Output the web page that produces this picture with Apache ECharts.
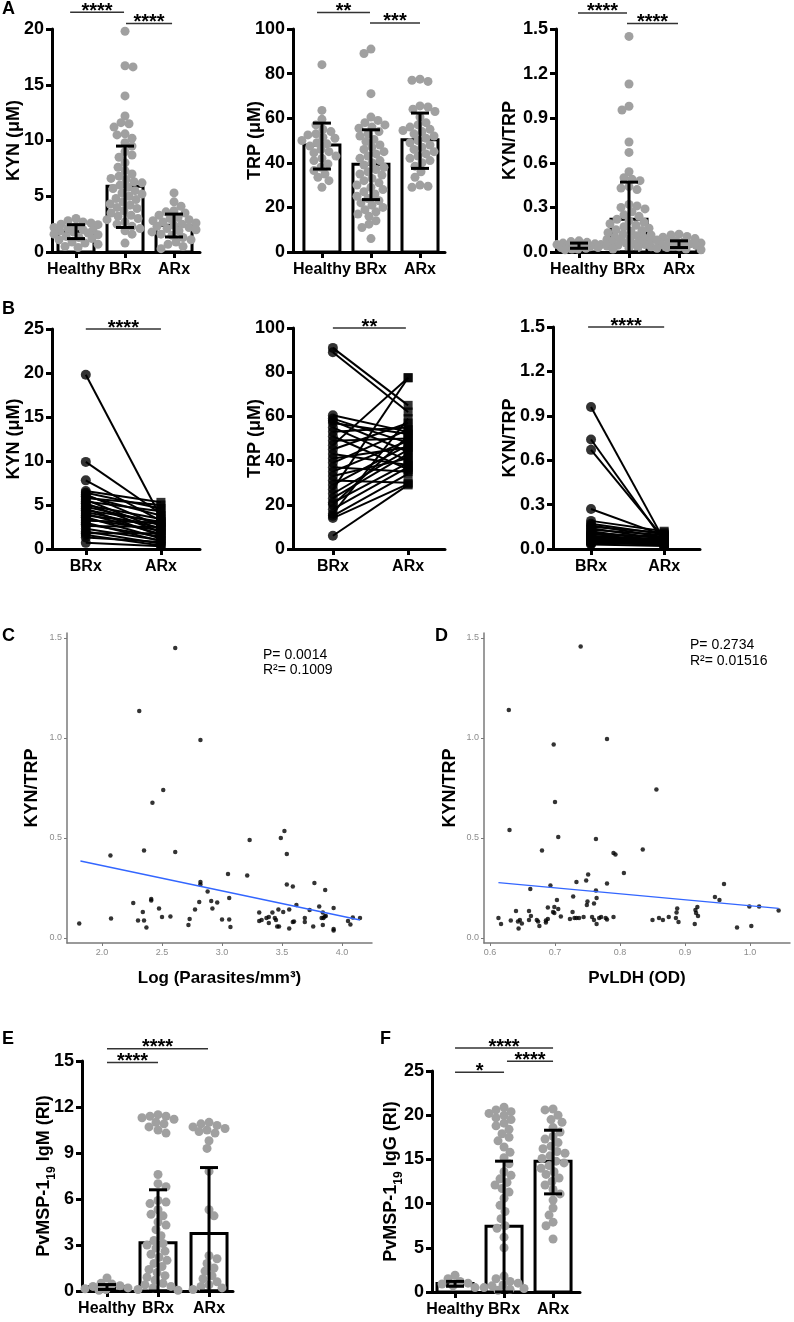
<!DOCTYPE html>
<html><head><meta charset="utf-8">
<script src="https://cdn.jsdelivr.net/npm/echarts@6/dist/echarts.min.js"></script>
<style>html,body{margin:0;padding:0;background:#fff}#c{width:794px;height:1322px}</style>
</head><body><div id="c"></div>
<script>
// ---------------- DATA ----------------
const groupNames = ['Healthy', 'BRx', 'ARx'];
const pairNames = ['BRx', 'ARx'];

// Panel A – KYN (µM)
const kynHealthy = [3.0, 2.8, 2.7, 2.6, 2.5, 2.45, 2.3, 2.2, 2.1, 2.0, 1.95, 1.9, 1.8, 1.7, 1.6, 1.55, 1.4, 1.3, 1.2, 1.1, 0.9, 0.8, 0.7, 0.5, 0.4];
const kynBRx = [19.8, 16.7, 16.6, 14.0, 12.2, 11.6, 11.5, 11.2, 10.6, 10.5, 10.2, 9.8, 9.5, 9.0, 8.7, 8.5, 8.0, 7.6, 7.3, 7.0, 6.8, 6.6, 6.5, 6.3, 6.2, 6.0, 5.8, 5.7, 5.5, 5.3, 5.2, 5.0, 4.8, 4.7, 4.5, 4.3, 4.2, 4.0, 3.9, 3.7, 3.5, 3.3, 3.2, 3.0, 2.9, 2.7, 2.5, 2.3, 2.1, 1.9, 1.6, 0.8];
const kynARx = [5.3, 4.5, 4.1, 3.7, 3.6, 3.5, 3.3, 3.1, 3.0, 2.9, 2.8, 2.7, 2.6, 2.5, 2.4, 2.3, 2.2, 2.1, 2.0, 1.9, 1.8, 1.6, 1.5, 1.3, 1.1, 0.9, 0.7, 0.5, 0.3];
const kynMean = [1.85, 5.9, 2.4];
const kynLow = [1.2, 2.2, 1.35];
const kynHigh = [2.45, 9.5, 3.4];
const kynSig = [[-0.12, 0.98, 21.5], [1.02, 1.96, 20.5]];
const kynSigText = ['****', '****'];

// Panel A – TRP (µM)
const trpHealthy = [84, 63.5, 59.5, 57, 55, 54, 53, 52.5, 51.5, 51, 50, 49, 48.5, 47.5, 46, 45, 44.5, 43, 42, 41, 39.5, 38, 36.5, 35, 33.5, 32, 29];
const trpBRx = [91, 89, 71, 60.5, 59, 58, 57, 56, 55.5, 54, 53, 52, 50.5, 49.5, 48, 47, 46, 45, 44, 43, 42, 41, 40, 39, 38, 37, 36, 35, 34.5, 33, 32, 31, 30, 29, 28, 27, 26, 25, 24, 23, 22, 21, 20, 19, 18, 17, 16, 14, 12.5, 11, 6];
const trpARx = [77.5, 77, 76.5, 65.5, 65, 64, 63, 60.5, 58, 57, 56, 55, 54.5, 54, 53, 52, 51, 50, 49, 48, 47, 46, 45, 44, 43, 42, 41, 40, 38.5, 36, 33.5, 30, 29.5, 29];
const trpMean = [48, 39.3, 50.3];
const trpLow = [37.2, 23.5, 37.5];
const trpHigh = [57.8, 54.8, 62.3];
const trpSig = [[-0.1, 0.98, 107.4], [0.98, 2.0, 102.7]];
const trpSigText = ['**', '***'];

// Panel A – KYN/TRP
const ktHealthy = [0.075, 0.07, 0.065, 0.06, 0.055, 0.05, 0.05, 0.045, 0.04, 0.04, 0.035, 0.03, 0.03, 0.025, 0.02, 0.02, 0.015];
const ktBRx = [1.45, 1.13, 0.98, 0.955, 0.74, 0.67, 0.54, 0.50, 0.49, 0.48, 0.44, 0.43, 0.42, 0.32, 0.31, 0.30, 0.29, 0.27, 0.25, 0.24, 0.22, 0.21, 0.20, 0.19, 0.18, 0.17, 0.16, 0.15, 0.145, 0.14, 0.13, 0.12, 0.115, 0.11, 0.10, 0.095, 0.09, 0.085, 0.08, 0.075, 0.07, 0.065, 0.06, 0.055, 0.05, 0.045, 0.04, 0.035, 0.03, 0.025, 0.02];
const ktARx = [0.12, 0.115, 0.105, 0.1, 0.09, 0.08, 0.075, 0.07, 0.065, 0.06, 0.055, 0.05, 0.045, 0.04, 0.035, 0.03, 0.025, 0.02, 0.015];
const ktMean = [0.04, 0.22, 0.053];
const ktLow = [0.025, 0.0, 0.03];
const ktHigh = [0.06, 0.47, 0.075];
const ktSig = [[-0.02, 0.96, 1.608], [0.96, 1.98, 1.537]];
const ktSigText = ['****', '****'];

// Panel B – paired BRx -> ARx
const kynPairB = [19.8, 9.9, 7.8, 6.6, 6.4, 6.2, 6.0, 5.8, 5.6, 5.4, 5.2, 5.0, 4.8, 4.6, 4.4, 4.2, 4.0, 3.8, 3.6, 3.4, 3.2, 3.0, 2.8, 2.6, 2.3, 2.0, 1.8, 1.6, 1.3, 0.7];
const kynPairA = [3.6, 4.0, 3.2, 5.3, 4.6, 2.6, 3.8, 5.0, 2.2, 4.3, 1.9, 3.4, 2.9, 1.5, 3.1, 2.4, 1.7, 2.8, 1.2, 2.1, 3.0, 0.9, 1.4, 2.5, 1.0, 0.6, 1.8, 0.4, 0.8, 0.3];
const kynPairSig = [[0, 1, 25]];
const trpPairB = [91, 89, 60.5, 59, 58, 57, 55, 53, 51, 49, 47, 45, 43, 41, 39, 37, 35, 33, 31, 29, 27, 25, 23, 21, 20, 18, 16, 15, 14, 6];
const trpPairA = [65, 62, 53, 48, 44, 52, 40, 55, 36, 50, 77.5, 57, 38, 46, 54, 35, 49, 41, 30, 47, 77.5, 45, 43, 39, 51, 37, 59, 34, 29.5, 29];
const trpPairSig = [[0, 0.97, 100]];
const ktPairB = [0.96, 0.74, 0.67, 0.27, 0.19, 0.17, 0.16, 0.15, 0.14, 0.13, 0.12, 0.11, 0.105, 0.1, 0.09, 0.085, 0.08, 0.075, 0.07, 0.065, 0.06, 0.055, 0.05, 0.045, 0.04, 0.035, 0.03];
const ktPairA = [0.06, 0.05, 0.07, 0.09, 0.12, 0.1, 0.08, 0.11, 0.065, 0.095, 0.05, 0.075, 0.04, 0.085, 0.06, 0.045, 0.07, 0.035, 0.055, 0.03, 0.05, 0.04, 0.025, 0.06, 0.03, 0.045, 0.02];
const ktPairSig = [[-0.04, 1.0, 1.5]];

// Panel C – KYN/TRP vs Log(parasites/mm3)
const cPoints = [[2.61,1.45],[2.31,1.135],[2.82,0.99],[2.51,0.74],[2.42,0.676],[2.07,0.413],[2.35,0.438],[2.61,0.43],[3.23,0.49],[3.49,0.50],[3.52,0.535],[3.54,0.42],[3.05,0.32],[3.21,0.313],[2.82,0.28],[2.82,0.268],[2.88,0.233],[3.54,0.268],[3.59,0.257],[3.77,0.275],[3.86,0.24],[2.26,0.175],[2.41,0.195],[2.41,0.188],[2.81,0.18],[2.91,0.185],[2.96,0.177],[3.06,0.20],[2.92,0.147],[2.775,0.142],[2.475,0.148],[2.34,0.13],[2.075,0.098],[2.30,0.088],[2.35,0.088],[2.50,0.105],[2.57,0.108],[2.37,0.053],[1.81,0.073],[2.73,0.095],[2.72,0.065],[3.00,0.092],[3.06,0.093],[3.07,0.055],[3.31,0.128],[3.42,0.127],[3.47,0.143],[3.51,0.13],[3.56,0.143],[3.62,0.165],[3.73,0.14],[3.81,0.158],[3.84,0.128],[3.93,0.15],[3.31,0.085],[3.33,0.09],[3.37,0.1],[3.39,0.105],[3.44,0.1],[3.45,0.09],[3.39,0.075],[3.475,0.058],[3.56,0.048],[3.59,0.08],[3.60,0.082],[3.69,0.1],[3.69,0.08],[3.76,0.057],[3.83,0.1],[3.845,0.1],[3.855,0.108],[3.865,0.11],[3.84,0.065],[3.93,0.045],[4.05,0.085],[4.07,0.067],[4.09,0.103],[4.15,0.1],[3.93,0.037],[3.46,0.057]];
const cFit = [[1.82, 0.385], [4.15, 0.09]];
const cStats = ['P= 0.0014', 'R\u00b2= 0.1009'];

// Panel D – KYN/TRP vs PvLDH (OD)
const dPoints = [[0.7395,1.457],[0.629,1.14],[0.78,0.995],[0.698,0.967],[0.856,0.743],[0.70,0.68],[0.63,0.54],[0.705,0.505],[0.763,0.495],[0.68,0.437],[0.79,0.425],[0.793,0.418],[0.835,0.443],[0.806,0.325],[0.751,0.318],[0.733,0.28],[0.748,0.287],[0.78,0.273],[0.693,0.263],[0.662,0.245],[0.763,0.238],[0.96,0.27],[0.728,0.207],[0.703,0.19],[0.75,0.183],[0.749,0.165],[0.76,0.172],[0.764,0.2],[0.689,0.152],[0.699,0.155],[0.705,0.145],[0.699,0.125],[0.709,0.107],[0.727,0.13],[0.689,0.095],[0.686,0.087],[0.674,0.083],[0.676,0.06],[0.672,0.09],[0.66,0.135],[0.663,0.11],[0.66,0.09],[0.64,0.135],[0.632,0.088],[0.643,0.083],[0.646,0.09],[0.644,0.047],[0.613,0.1],[0.617,0.07],[0.723,0.095],[0.73,0.1],[0.733,0.1],[0.737,0.1],[0.744,0.105],[0.757,0.105],[0.76,0.09],[0.764,0.07],[0.768,0.1],[0.771,0.105],[0.778,0.1],[0.78,0.093],[0.79,0.105],[0.85,0.09],[0.86,0.1],[0.866,0.09],[0.875,0.105],[0.886,0.1],[0.89,0.08],[0.887,0.127],[0.888,0.148],[0.916,0.14],[0.917,0.125],[0.92,0.11],[0.919,0.155],[0.915,0.07],[0.946,0.205],[0.953,0.19],[0.98,0.053],[0.999,0.158],[1.014,0.158],[1.002,0.06],[1.044,0.137],[0.649,0.073],[0.697,0.13],[0.686,0.077]];
const dFit = [[0.613, 0.277], [1.044, 0.148]];
const dStats = ['P= 0.2734', 'R\u00b2= 0.01516'];

// Panel E – PvMSP-1(19) IgM (RI)
const igmHealthy = [0.85, 0.5, 0.45, 0.35, 0.3, 0.2, 0.15, 0.1, 0.05];
const igmBRx = [11.5, 11.4, 11.4, 11.3, 11.2, 11.0, 10.9, 10.7, 10.5, 10.3, 7.6, 7.0, 6.8, 5.9, 5.8, 5.7, 5.3, 5.0, 4.9, 4.5, 4.3, 4.0, 3.6, 3.3, 3.1, 3.0, 2.8, 2.6, 2.4, 2.2, 2.0, 1.8, 1.6, 1.4, 1.2, 1.0, 0.9, 0.7, 0.5, 0.4, 0.3, 0.2, 0.1, 0.05];
const igmARx = [11.0, 10.9, 10.8, 10.7, 10.6, 10.5, 10.4, 10.3, 9.8, 9.3, 7.8, 5.3, 4.9, 2.3, 2.1, 1.8, 1.5, 1.3, 1.0, 0.8, 0.6, 0.4, 0.3, 0.2, 0.1];
const igmMean = [0.28, 3.15, 3.75];
const igmLow = [0.1, 0, 0];
const igmHigh = [0.42, 6.6, 8.05];
const igmSig = [[0, 1.98, 15.8], [0, 1.0, 14.9]];
const igmSigText = ['****', '****'];

// Panel F – PvMSP-1(19) IgG (RI)
const iggHealthy = [1.9, 1.5, 1.2, 1.0, 0.9, 0.7, 0.5];
const iggBRx = [20.9, 20.6, 20.4, 20.2, 20.0, 19.7, 19.5, 19.1, 18.8, 18.4, 17.9, 17.5, 17.1, 16.4, 15.8, 15.2, 14.5, 13.6, 13.2, 12.8, 12.4, 12.1, 11.7, 11.3, 10.6, 9.8, 9.1, 8.3, 7.5, 7.2, 6.2, 5.0, 1.8, 1.5, 1.2, 1.0, 0.8, 0.7, 0.5, 0.4, 0.3, 0.2];
const iggARx = [20.7, 20.6, 20.0, 19.5, 19.2, 18.6, 18.1, 17.6, 17.3, 16.9, 16.5, 16.2, 15.9, 15.7, 15.4, 15.1, 14.8, 14.6, 14.3, 14.0, 13.6, 13.3, 12.9, 12.5, 12.1, 11.6, 11.1, 10.4, 9.5, 8.7, 7.9, 7.5, 6.0];
const iggMean = [0.95, 7.45, 14.8];
const iggLow = [0.65, 0, 11.1];
const iggHigh = [1.2, 14.8, 18.3];
const iggSig = [[0, 2.0, 27.6], [1.06, 2.0, 26.1], [0, 1.0, 24.85]];
const iggSigText = ['****', '****', '*'];

// ---------------- LAYOUT / STYLE ----------------
const FONT = "'Liberation Sans', Arial, Helvetica, sans-serif";
const BAR_W = 36, CAP = 9, DOT = 9, DOT_COLOR = '#a0a0a0';
const SWARM_HALF = 22, SWARM_SEP = 0.86;

const barPanels = [
  {grid:{left:52,top:29,width:148,height:223}, xr:[-0.49,2.53], ymax:20, step:5, dec:0, name:'KYN (\u03bcM)', gap:29,
   groups:[kynHealthy,kynBRx,kynARx], mean:kynMean, lo:kynLow, hi:kynHigh, sig:kynSig, sigText:kynSigText},
  {grid:{left:293,top:29,width:152,height:223}, xr:[-0.59,2.51], ymax:100, step:20, dec:0, name:'TRP (\u03bcM)', gap:29,
   groups:[trpHealthy,trpBRx,trpARx], mean:trpMean, lo:trpLow, hi:trpHigh, sig:trpSig, sigText:trpSigText},
  {grid:{left:556,top:29,width:146,height:223}, xr:[-0.46,2.46], ymax:1.5, step:0.3, dec:1, name:'KYN/TRP', gap:37,
   groups:[ktHealthy,ktBRx,ktARx], mean:ktMean, lo:ktLow, hi:ktHigh, sig:ktSig, sigText:ktSigText},
  {grid:{left:82,top:1061,width:151,height:230}, xr:[-0.49,2.47], ymax:15, step:3, dec:0, name:'PvMSP-1{sub|19} IgM (RI)', gap:24, rich:true,
   groups:[igmHealthy,igmBRx,igmARx], mean:igmMean, lo:igmLow, hi:igmHigh, sig:igmSig, sigText:igmSigText},
  {grid:{left:432,top:1071,width:148,height:221}, xr:[-0.47,2.55], ymax:25, step:5, dec:0, name:'PvMSP-1{sub|19} IgG (RI)', gap:27, rich:true,
   groups:[iggHealthy,iggBRx,iggARx], mean:iggMean, lo:iggLow, hi:iggHigh, sig:iggSig, sigText:iggSigText}
];
const pairPanels = [
  {grid:{left:52,top:329,width:148,height:220}, xr:[-0.45,1.52], ymax:25, step:5, dec:0, name:'KYN (\u03bcM)', gap:29,
   b:kynPairB, a:kynPairA, sig:kynPairSig, sigText:['****']},
  {grid:{left:293,top:328,width:152,height:221}, xr:[-0.53,1.49], ymax:100, step:20, dec:0, name:'TRP (\u03bcM)', gap:29,
   b:trpPairB, a:trpPairA, sig:trpPairSig, sigText:['**']},
  {grid:{left:553,top:327,width:147,height:222}, xr:[-0.52,1.49], ymax:1.5, step:0.3, dec:1, name:'KYN/TRP', gap:34,
   b:ktPairB, a:ktPairA, sig:ktPairSig, sigText:['****']}
];
const scatterPanels = [
  {grid:{left:67,top:633,width:305,height:310}, xr:[1.708,4.25], xticks:[2.0,2.5,3.0,3.5,4.0], name:'Log (Parasites/mm\u00b3)', pts:cPoints, fit:cFit, ygap:26},
  {grid:{left:484,top:633,width:306,height:310}, xr:[0.5908,1.0615], xticks:[0.6,0.7,0.8,0.9,1.0], name:'PvLDH (OD)', pts:dPoints, fit:dFit, ygap:25}
];
const YR_SC = [-0.025, 1.525];

// ---------------- helpers ----------------
function swarm(values, pxY, r, maxHalf) {
  const order = values.map((v, i) => i).sort((a, b) => values[b] - values[a]);
  const placed = [];
  const out = new Array(values.length);
  const minD = 2 * r * SWARM_SEP;
  let flip = 1;
  for (const i of order) {
    const y = values[i] * pxY;
    let chosen = null, bestScore = -1, bestC = 0;
    for (let k = 0; k <= maxHalf * 2; k++) {
      const c = k === 0 ? 0 : flip * (k % 2 === 1 ? 1 : -1) * Math.ceil(k / 2);
      if (Math.abs(c) > maxHalf) break;
      let md = Infinity;
      for (const p of placed) {
        const d = Math.hypot(c - p[0], y - p[1]);
        if (d < md) md = d;
      }
      if (md >= minD) { chosen = c; break; }
      if (md > bestScore) { bestScore = md; bestC = c; }
    }
    if (chosen === null) chosen = bestC;
    flip = -flip;
    placed.push([chosen, y]);
    out[i] = chosen;
  }
  return out;
}

const boldText = (size, extra) => Object.assign({fontFamily: FONT, fontSize: size, fontWeight: 'bold', color: '#000'}, extra || {});

function gpY(gi, p) {
  const nts = boldText(18, p.rich ? {lineHeight: 28, rich: {sub: {fontFamily: FONT, fontSize: 12, fontWeight: 'bold', color: '#000', verticalAlign: 'bottom', lineHeight: 12}}} : {});
  return {type: 'value', gridIndex: gi, min: 0, max: p.ymax, interval: p.step,
    axisLine: {show: true, onZero: false, lineStyle: {color: '#000', width: 3}},
    axisTick: {show: true, length: 6, lineStyle: {color: '#000', width: 3}},
    axisLabel: Object.assign(boldText(18), {margin: 8, formatter: v => v.toFixed(p.dec)}),
    splitLine: {show: false},
    name: p.name, nameLocation: 'middle', nameGap: p.gap, nameMoveOverlap: false, nameTextStyle: nts};
}
function gpX(gi, p, names) {
  const vals = names.map((_, i) => i);
  return {type: 'value', gridIndex: gi, min: p.xr[0], max: p.xr[1],
    axisLine: {show: true, onZero: false, lineStyle: {color: '#000', width: 3}},
    axisTick: {show: true, length: 6, customValues: vals, lineStyle: {color: '#000', width: 3}},
    axisLabel: Object.assign(boldText(16), {margin: 10, customValues: vals, formatter: v => names[Math.round(v)]}),
    splitLine: {show: false}};
}

function renderBar(params, api) {
  const x = api.value(0), v = api.value(1);
  const p = api.coord([x, v]), p0 = api.coord([x, 0]);
  return {type: 'rect', shape: {x: p[0] - BAR_W / 2, y: p[1], width: BAR_W, height: p0[1] - p[1]},
    style: {fill: '#fff', stroke: '#000', lineWidth: 3}};
}
function renderErr(params, api) {
  const x = api.value(0);
  const a = api.coord([x, api.value(1)]), b = api.coord([x, api.value(2)]);
  const st = {stroke: '#000', lineWidth: 3};
  return {type: 'group', children: [
    {type: 'line', shape: {x1: a[0], y1: a[1], x2: b[0], y2: b[1]}, style: st},
    {type: 'line', shape: {x1: a[0] - CAP, y1: a[1], x2: a[0] + CAP, y2: a[1]}, style: st},
    {type: 'line', shape: {x1: b[0] - CAP, y1: b[1], x2: b[0] + CAP, y2: b[1]}, style: st}
  ]};
}
function makeSig(labels) {
  return function (params, api) {
    const y = api.value(2);
    const a = api.coord([api.value(0), y]), b = api.coord([api.value(1), y]);
    return {type: 'group', children: [
      {type: 'line', shape: {x1: a[0], y1: a[1], x2: b[0], y2: b[1]}, style: {stroke: '#333', lineWidth: 1.5}},
      {type: 'text', x: (a[0] + b[0]) / 2, y: a[1] + 9,
        style: {text: labels[params.dataIndex], fontFamily: FONT, fontSize: 20, fontWeight: 'bold', fill: '#000', align: 'center', verticalAlign: 'bottom'}}
    ]};
  };
}
function renderPairLine(params, api) {
  const a = api.coord([0, api.value(0)]), b = api.coord([1, api.value(1)]);
  return {type: 'line', shape: {x1: a[0], y1: a[1], x2: b[0], y2: b[1]}, style: {stroke: '#000', lineWidth: 2}};
}

// ---------------- build option ----------------
const grids = [], xAxes = [], yAxes = [], series = [];
let gi = 0;
barPanels.forEach(p => {
  grids.push(Object.assign({containLabel: false}, p.grid));
  xAxes.push(gpX(gi, p, groupNames));
  yAxes.push(gpY(gi, p));
  const pxY = p.grid.height / p.ymax;
  const pxX = p.grid.width / (p.xr[1] - p.xr[0]);
  series.push({type: 'custom', xAxisIndex: gi, yAxisIndex: gi, z: 1, renderItem: renderBar,
    data: p.mean.map((m, i) => [i, m]), encode: {x: 0, y: 1}, silent: true});
  p.groups.forEach((vals, ci) => {
    const offs = swarm(vals, pxY, DOT / 2, SWARM_HALF);
    series.push({type: 'scatter', xAxisIndex: gi, yAxisIndex: gi, z: 2, symbol: 'circle', symbolSize: DOT,
      itemStyle: {color: DOT_COLOR, opacity: 1}, silent: true,
      data: vals.map((v, i) => [ci + offs[i] / pxX, v])});
  });
  series.push({type: 'custom', xAxisIndex: gi, yAxisIndex: gi, z: 3, renderItem: renderErr,
    data: p.mean.map((m, i) => [i, p.lo[i], p.hi[i]]), encode: {x: 0, y: [1, 2]}, silent: true});
  series.push({type: 'custom', xAxisIndex: gi, yAxisIndex: gi, z: 3, renderItem: makeSig(p.sigText), clip: false,
    data: p.sig.map(s => s.slice()), encode: {x: [0, 1], y: 2}, silent: true});
  gi++;
});
pairPanels.forEach(p => {
  grids.push(Object.assign({containLabel: false}, p.grid));
  xAxes.push(gpX(gi, p, pairNames));
  yAxes.push(gpY(gi, p));
  series.push({type: 'custom', xAxisIndex: gi, yAxisIndex: gi, z: 2, renderItem: renderPairLine,
    data: p.b.map((v, i) => [v, p.a[i]]), encode: {y: [0, 1]}, silent: true});
  series.push({type: 'scatter', xAxisIndex: gi, yAxisIndex: gi, z: 3, symbol: 'circle', symbolSize: 10,
    itemStyle: {color: '#000'}, silent: true, data: p.b.map(v => [0, v])});
  series.push({type: 'scatter', xAxisIndex: gi, yAxisIndex: gi, z: 3, symbol: 'rect', symbolSize: 9,
    itemStyle: {color: '#000'}, silent: true, data: p.a.map(v => [1, v])});
  series.push({type: 'custom', xAxisIndex: gi, yAxisIndex: gi, z: 3, renderItem: makeSig(p.sigText), clip: false,
    data: p.sig.map(s => s.slice()), encode: {x: [0, 1], y: 2}, silent: true});
  gi++;
});
scatterPanels.forEach(p => {
  grids.push(Object.assign({containLabel: false}, p.grid));
  xAxes.push({type: 'value', gridIndex: gi, min: p.xr[0], max: p.xr[1],
    axisLine: {show: true, onZero: false, lineStyle: {color: '#7a7a7a', width: 1.5}},
    axisTick: {show: true, length: 3, customValues: p.xticks, lineStyle: {color: '#7a7a7a', width: 1}},
    axisLabel: {customValues: p.xticks, formatter: v => v.toFixed(1), fontFamily: FONT, fontSize: 9, color: '#8c8c8c', margin: 5},
    splitLine: {show: false},
    name: p.name, nameLocation: 'middle', nameGap: 27, nameMoveOverlap: false, nameTextStyle: boldText(17)});
  yAxes.push({type: 'value', gridIndex: gi, min: YR_SC[0], max: YR_SC[1],
    axisLine: {show: true, onZero: false, lineStyle: {color: '#7a7a7a', width: 1.5}},
    axisTick: {show: true, length: 3, customValues: [0, 0.5, 1.0, 1.5], lineStyle: {color: '#7a7a7a', width: 1}},
    axisLabel: {customValues: [0, 0.5, 1.0, 1.5], formatter: v => v.toFixed(1), fontFamily: FONT, fontSize: 9, color: '#8c8c8c', margin: 5},
    splitLine: {show: false},
    name: 'KYN/TRP', nameLocation: 'middle', nameGap: p.ygap, nameMoveOverlap: false, nameTextStyle: boldText(18)});
  series.push({type: 'scatter', xAxisIndex: gi, yAxisIndex: gi, symbol: 'circle', symbolSize: 4.5,
    itemStyle: {color: '#000'}, silent: true, data: p.pts});
  series.push({type: 'line', xAxisIndex: gi, yAxisIndex: gi, symbol: 'none', silent: true,
    lineStyle: {color: '#3366ff', width: 1.3}, data: p.fit, z: 3});
  gi++;
});

const letter = (t, left, top) => ({type: 'text', left, top, style: {text: t, fontFamily: FONT, fontSize: 18, fontWeight: 'bold', fill: '#000'}});
const note = (t, left, top) => ({type: 'text', left, top, style: {text: t, fontFamily: FONT, fontSize: 14, fill: '#000'}});
const graphic = [
  letter('A', 2, 0), letter('B', 2, 300), letter('C', 2, 627), letter('D', 435, 627), letter('E', 2, 1030), letter('F', 380, 1030),
  note(cStats[0], 263, 648), note(cStats[1], 263, 663),
  note(dStats[0], 690, 638), note(dStats[1], 690, 654)
];

const chart = echarts.init(document.getElementById('c'), null, {renderer: 'canvas'});
chart.setOption({
  animation: false,
  backgroundColor: '#fff',
  grid: grids, xAxis: xAxes, yAxis: yAxes, series, graphic
});
</script></body></html>
